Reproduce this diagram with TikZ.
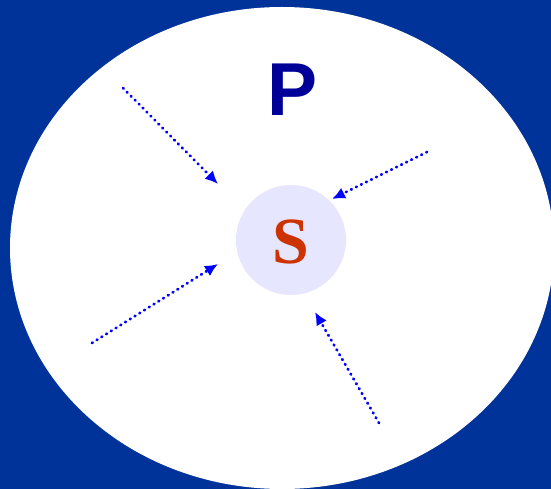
\documentclass[tikz,border=0pt]{standalone}
\usepackage{fontspec}
\setmainfont{Liberation Serif}
\newfontfamily\psans{Liberation Sans}
\usetikzlibrary{arrows.meta}
\definecolor{bgblue}{HTML}{003399}
\definecolor{pnavy}{HTML}{000099}
\definecolor{sred}{HTML}{CC3300}
\definecolor{lav}{HTML}{E6E6FF}
\definecolor{arrblue}{HTML}{0000FF}
\tikzset{
  flowarrow/.style={draw=arrblue, line width=2.8pt, line cap=round,
    dash pattern=on 0.8pt off 4.8pt,
    -{Latex[length=13pt,width=12pt,line cap=butt,sep=0pt]}},
}
\begin{document}
\begin{tikzpicture}[x=1pt,y=-1pt]
\fill[bgblue] (0,0) rectangle (551,489);
\useasboundingbox (0,0) rectangle (551,489);
\fill[white] (282,248) ellipse [x radius=272, y radius=241];
\node[circle, fill=lav, minimum size=110pt, inner sep=0pt] (S) at (291,240) {};
\node[text=sred, font=\fontsize{66}{66}\selectfont\bfseries, anchor=base] (Slab) at (291,263) {S};
\node[text=pnavy, font=\psans\fontsize{75}{75}\selectfont\bfseries, anchor=base] (P) at (293,116) {P};
\coordinate (a1) at (123,88);  \coordinate (b1) at (218,184);
\coordinate (a2) at (427,152); \coordinate (b2) at (332,199);
\coordinate (a3) at (92,343);  \coordinate (b3) at (218,264);
\coordinate (a4) at (379,423); \coordinate (b4) at (315,312);
\draw[flowarrow] (a1) -- (b1);
\draw[flowarrow] (a2) -- (b2);
\draw[flowarrow] (a3) -- (b3);
\draw[flowarrow] (a4) -- (b4);
\end{tikzpicture}
\end{document}
